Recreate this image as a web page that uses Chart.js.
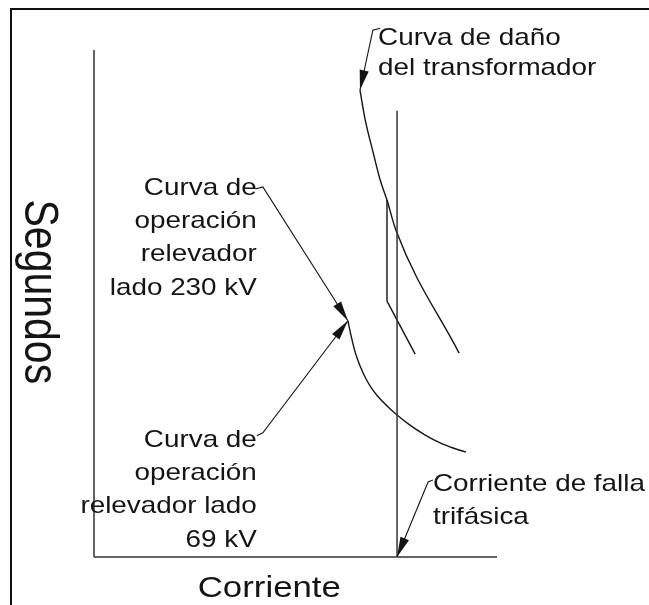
<!DOCTYPE html>
<html>
<head>
<meta charset="utf-8">
<script src="https://cdn.jsdelivr.net/npm/chart.js@4"></script>
<style>
  html, body { margin: 0; padding: 0; background: #fff; }
  #wrap { position: relative; width: 649px; height: 605px; overflow: hidden; }
  #frame { position: absolute; left: 10px; top: 8px; width: 700px; height: 700px;
           border-left: 2px solid #111; border-top: 2px solid #111; }
  canvas { position: absolute; left: 0; top: 0; }
</style>
</head>
<body>
<div id="wrap">
  <div id="frame"></div>
  <canvas id="chart" width="649" height="605"></canvas>
</div>
<script>
// axis units: x = corriente (0-100), y = segundos (0-100)
const axisY = [{ x: 0, y: 100 }, { x: 0, y: 0 }];
const axisX = [{ x: 0, y: 0 }, { x: 100, y: 0 }];

const faultCurrent = [{ x: 75.2, y: 0 }, { x: 75.2, y: 88.0 }];

const transformerDamage = [
  { x: 66.0, y: 92.1 }, { x: 67.3, y: 86.2 }, { x: 69.1, y: 80.3 },
  { x: 71.0, y: 74.4 }, { x: 72.7, y: 70.4 }, { x: 74.9, y: 64.5 },
  { x: 90.6, y: 40.2 }
];
const damageBranch = [{ x: 72.7, y: 70.4 }, { x: 72.7, y: 50.5 }, { x: 79.7, y: 40.0 }];

const relayCurve = [
  { x: 63.0, y: 46.6 }, { x: 63.8, y: 43.6 }, { x: 64.8, y: 40.4 },
  { x: 66.0, y: 37.7 }, { x: 67.5, y: 35.1 }, { x: 69.2, y: 32.9 },
  { x: 71.2, y: 31.0 }, { x: 73.5, y: 29.2 }, { x: 75.2, y: 28.0 },
  { x: 78.4, y: 26.0 }, { x: 82.1, y: 24.1 }, { x: 85.9, y: 22.5 },
  { x: 89.1, y: 21.5 }, { x: 92.3, y: 20.7 }
];

// leaders: label end -> arrow tip
const leader230 = [{ x: 40.0, y: 72.6 }, { x: 41.9, y: 73.0 }, { x: 63.0, y: 46.6 }];
const leader69 = [{ x: 40.4, y: 23.9 }, { x: 41.9, y: 24.5 }, { x: 63.0, y: 46.6 }];
const leaderDamage = [{ x: 71.0, y: 104.3 }, { x: 69.2, y: 103.9 }, { x: 66.0, y: 92.1 }];
const leaderFault = [{ x: 84.1, y: 15.2 }, { x: 82.9, y: 14.8 }, { x: 75.2, y: 0 }];

// labels
const labelDamage = ['Curva de daño', 'del transformador'];
const label230 = ['Curva de', 'operación', 'relevador', 'lado 230 kV'];
const label69 = ['Curva de', 'operación', 'relevador lado', '69 kV'];
const labelFault = ['Corriente de falla', 'trifásica'];
const xTitle = 'Corriente';
const yTitle = 'Segundos';

const notes = [
  { lines: labelDamage, x: 70.5, y: 101.0, step: 5.9, align: 'left' },
  { lines: label230, x: 40.4, y: 71.4, step: 6.55, align: 'right' },
  { lines: label69, x: 40.4, y: 21.7, step: 6.55, align: 'right' },
  { lines: labelFault, x: 84.1, y: 13.0, step: 6.5, align: 'left' }
];

const ink = '#141414';

function line(data, width, extra) {
  return Object.assign({
    data: data, showLine: true, pointRadius: 0, borderColor: ink,
    borderWidth: width, tension: 0, clip: false, fill: false
  }, extra || {});
}

const textPlugin = {
  id: 'textPlugin',
  afterDatasetsDraw(chart) {
    const ctx = chart.ctx;
    const sx = chart.scales.x, sy = chart.scales.y;
    const stretch = 1.16;

    // arrowheads at the end of each leader
    [leader230, leader69, leaderDamage, leaderFault].forEach(pts => {
      const a = pts[pts.length - 2], b = pts[pts.length - 1];
      const ax = sx.getPixelForValue(a.x), ay = sy.getPixelForValue(a.y);
      const bx = sx.getPixelForValue(b.x), by = sy.getPixelForValue(b.y);
      const ang = Math.atan2(by - ay, bx - ax);
      const len = 20, half = 4.6;
      ctx.save();
      ctx.translate(bx, by);
      ctx.rotate(ang);
      ctx.beginPath();
      ctx.moveTo(0, 0);
      ctx.lineTo(-len, -half);
      ctx.lineTo(-len, half);
      ctx.closePath();
      ctx.fillStyle = ink;
      ctx.fill();
      ctx.restore();
    });

    ctx.save();
    ctx.fillStyle = ink;
    ctx.textBaseline = 'alphabetic';
    ctx.font = '24px "Liberation Sans", Arial, sans-serif';
    notes.forEach(n => {
      n.lines.forEach((t, i) => {
        const px = sx.getPixelForValue(n.x);
        const py = sy.getPixelForValue(n.y - i * n.step);
        ctx.save();
        ctx.translate(px, py);
        ctx.scale(stretch, 1);
        ctx.textAlign = n.align;
        ctx.fillText(t, 0, 0);
        ctx.restore();
      });
    });

    // axis titles
    ctx.font = '30px "Liberation Sans", Arial, sans-serif';
    ctx.save();
    ctx.translate(sx.getPixelForValue(43.5), sy.getPixelForValue(-7.9));
    ctx.scale(stretch, 1);
    ctx.textAlign = 'center';
    ctx.fillText(xTitle, 0, 0);
    ctx.restore();

    ctx.font = '41px "Liberation Sans", Arial, sans-serif';
    ctx.save();
    ctx.translate(sx.getPixelForValue(-13.9), sy.getPixelForValue(52.3));
    ctx.scale(stretch, 1);
    ctx.rotate(Math.PI / 2);
    ctx.textAlign = 'center';
    ctx.textBaseline = 'middle';
    ctx.fillText(yTitle, 0, 0);
    ctx.restore();
    ctx.restore();
  }
};

new Chart(document.getElementById('chart'), {
  type: 'scatter',
  data: {
    datasets: [
      line(axisY, 1.5, { borderColor: '#333' }),
      line(axisX, 1.5, { borderColor: '#333' }),
      line(faultCurrent, 1.5, { borderColor: '#333' }),
      line(transformerDamage, 1.4, { cubicInterpolationMode: 'monotone' }),
      line(damageBranch, 1.4),
      line(relayCurve, 1.4, { cubicInterpolationMode: 'monotone' }),
      line(leader230, 1.1),
      line(leader69, 1.1),
      line(leaderDamage, 1.1),
      line(leaderFault, 1.1)
    ]
  },
  options: {
    responsive: false,
    animation: false,
    devicePixelRatio: 1,
    layout: { padding: { left: 94, right: 152, top: 50, bottom: 48 } },
    scales: {
      x: { type: 'linear', min: 0, max: 100, display: false },
      y: { type: 'linear', min: 0, max: 100, display: false }
    },
    plugins: {
      legend: { display: false },
      tooltip: { enabled: false }
    }
  },
  plugins: [textPlugin]
});
</script>
</body>
</html>
